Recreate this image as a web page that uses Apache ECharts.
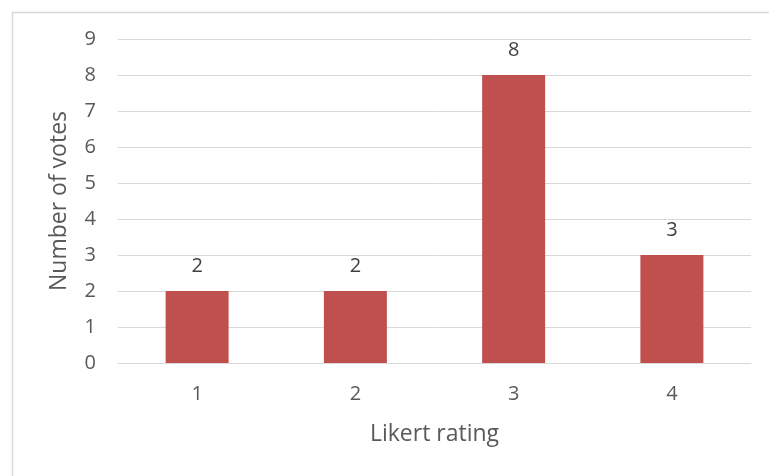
<!DOCTYPE html>
<html>
<head>
<meta charset="utf-8">
<script src="https://cdn.jsdelivr.net/npm/echarts@6/dist/echarts.min.js"></script>
<style>
  html, body { margin: 0; padding: 0; background: #fff; }
  #chart { width: 769px; height: 476px; }
</style>
</head>
<body>
<div id="chart"></div>
<script>
// Likert rating categories and the number of votes for each
const ratings = ['1', '2', '3', '4'];
const votes = [2, 2, 8, 3];

const textColor = '#595959';
const fontFamily = '"Open Sans", "Liberation Sans", sans-serif';

const chart = echarts.init(document.getElementById('chart'));
chart.setOption({
  animation: false,
  textStyle: { fontFamily: fontFamily },
  graphic: [{
    type: 'rect',
    left: 10, top: 10,
    shape: { width: 800, height: 500 },
    style: { fill: 'none', stroke: '#d9d9d9', lineWidth: 1.5 },
    silent: true
  }],
  grid: { left: 118, right: 18, top: 39, bottom: 113 },
  xAxis: {
    type: 'category',
    data: ratings,
    name: 'Likert rating',
    nameLocation: 'middle',
    nameGap: 60,
    nameTextStyle: { fontSize: 23, color: textColor, fontFamily: fontFamily },
    axisLine: { lineStyle: { color: '#d9d9d9', width: 1 } },
    axisTick: { show: false },
    axisLabel: { fontSize: 20, color: textColor, margin: 21, fontFamily: fontFamily }
  },
  yAxis: {
    type: 'value',
    min: 0, max: 9, interval: 1,
    name: 'Number of votes',
    nameLocation: 'middle',
    nameGap: 47,
    nameTextStyle: { fontSize: 23, color: textColor, fontFamily: fontFamily },
    axisLine: { show: false },
    axisTick: { show: false },
    axisLabel: { fontSize: 20, color: textColor, margin: 22, fontFamily: fontFamily },
    splitLine: { lineStyle: { color: '#d9d9d9', width: 1 } }
  },
  series: [{
    type: 'bar',
    data: votes,
    barWidth: 63,
    itemStyle: { color: '#C0504D' },
    label: {
      show: true,
      position: 'top',
      distance: 15,
      fontSize: 20,
      color: '#404040',
      fontFamily: fontFamily
    }
  }]
});
</script>
</body>
</html>
